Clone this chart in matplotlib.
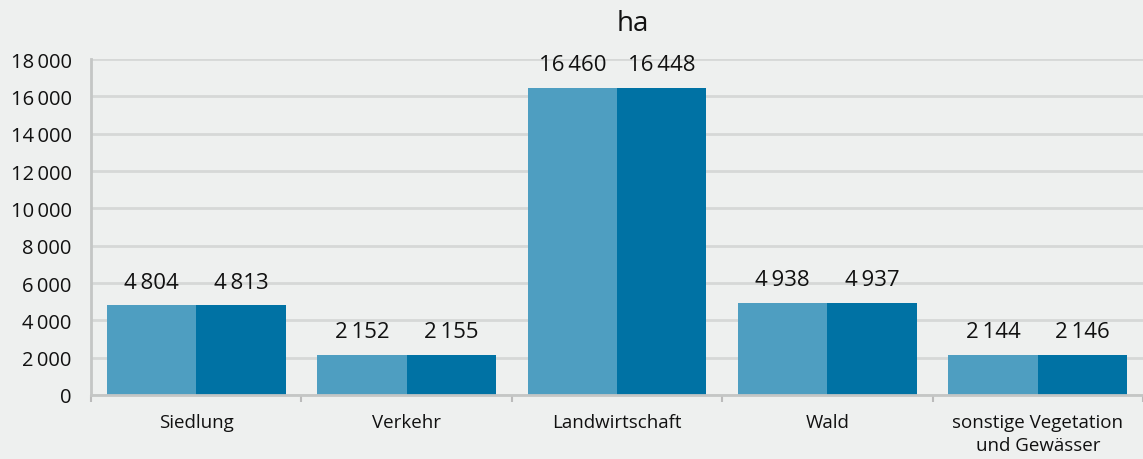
import matplotlib

matplotlib.use("Agg")

import matplotlib.pyplot as plt
import numpy as np
from matplotlib.ticker import FuncFormatter, MultipleLocator

categories = ["Siedlung", "Verkehr", "Landwirtschaft", "Wald", "sonstige Vegetation\nund Gewässer"]
values_a = [4804, 2152, 16460, 4938, 2144]
values_b = [4813, 2155, 16448, 4937, 2146]

plt.rcParams["font.family"] = ["Open Sans", "DejaVu Sans"]

BG = "#eef0ef"
GRID = "#d6d8d7"
LIGHT = "#4e9ec1"
DARK = "#0072a4"


def fmt(v):
    return f"{int(v):,}".replace(",", "\u2009")


fig = plt.figure(figsize=(11.43, 4.6), dpi=100, facecolor=BG)
ax = fig.add_axes([91 / 1143, 1 - 396 / 460, 1 - 91 / 1143, 336 / 460])
ax.set_facecolor(BG)

x = np.arange(len(categories))
w = 0.425
bars_a = ax.bar(x - w / 2, values_a, width=w, color=LIGHT, zorder=2)
bars_b = ax.bar(x + w / 2, values_b, width=w, color=DARK, zorder=2)

for bars in (bars_a, bars_b):
    for b in bars:
        ax.annotate(fmt(b.get_height()), (b.get_x() + b.get_width() / 2, b.get_height()),
                    xytext=(0, 9), textcoords="offset points", ha="center", va="bottom",
                    fontsize=16, color="#111111")

ax.set_xlim(-0.5, len(categories) - 0.5)
ax.set_ylim(0, 18000)
ax.yaxis.set_major_locator(MultipleLocator(2000))
ax.yaxis.set_major_formatter(FuncFormatter(lambda v, p: fmt(v)))
ax.grid(axis="y", color=GRID, linewidth=2, zorder=0)
ax.set_axisbelow(True)

ax.set_xticks(x)
ax.set_xticklabels(categories, fontsize=13.5, color="#111111", linespacing=1.35)
ax.set_xticks(np.arange(len(categories) + 1) - 0.5, minor=True)
ax.tick_params(axis="x", which="major", length=0, pad=13)
ax.tick_params(axis="x", which="minor", length=5, width=1.5, color="#bbbbbb")
ax.tick_params(axis="y", length=0, pad=14, labelsize=14.5, labelcolor="#111111")

for side in ("top", "right"):
    ax.spines[side].set_visible(False)
for side in ("left", "bottom"):
    ax.spines[side].set_color("#c4c6c5")
    ax.spines[side].set_linewidth(2)

fig.text(633 / 1143, 1 - 24 / 460, "ha", ha="center", va="center", fontsize=20, color="#111111")

fig.savefig("out.png", dpi=100, facecolor=BG)
